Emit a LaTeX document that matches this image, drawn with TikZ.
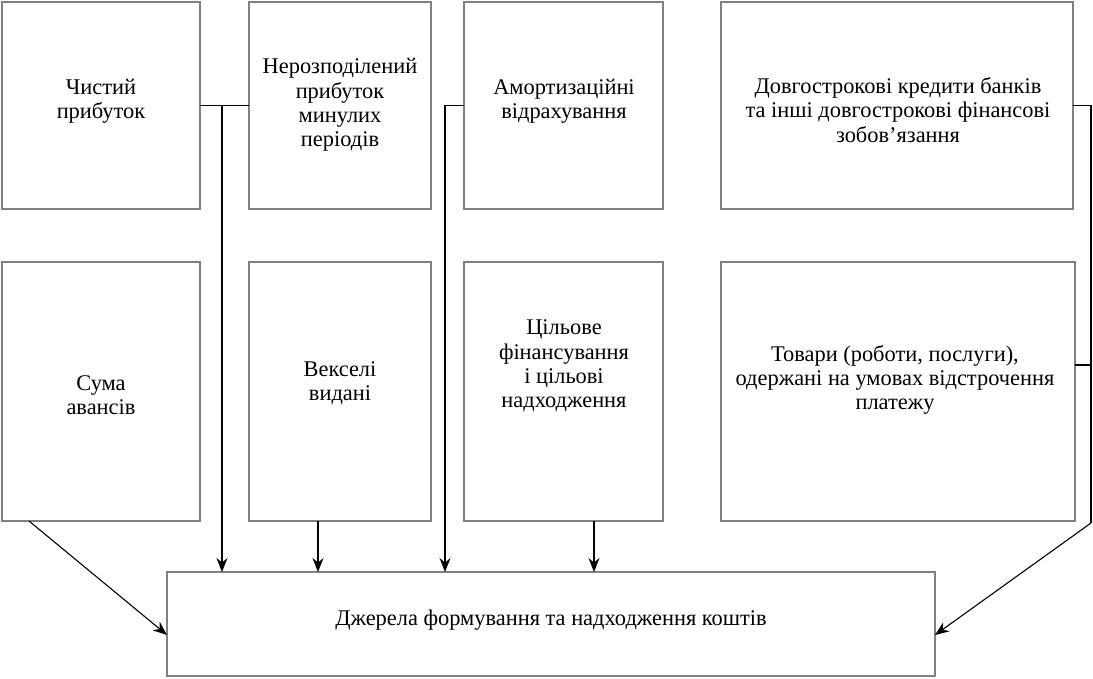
\documentclass[tikz,border=0pt]{standalone}
\usepackage{fontspec}
\setmainfont{Liberation Serif}
\usetikzlibrary{arrows.meta,calc}
\begin{document}
\begin{tikzpicture}[x=1pt,y=-1pt,
  box/.style={draw=black!50,line width=2.6pt,inner sep=0pt,outer sep=0pt},
  txt/.style={align=center,inner sep=0pt,font=\fontsize{22.4}{24.3}\selectfont},
  conn/.style={draw=black,line width=1.1pt},
  arr/.style={conn,-{Stealth[length=14pt,width=11pt]}}]
\useasboundingbox (0,0) rectangle (1093,679);
% boxes
\node[box,minimum width=198pt,minimum height=207pt] (b1) at (101,105.5) {};
\node[box,minimum width=182pt,minimum height=207pt] (b2) at (340,105.5) {};
\node[box,minimum width=199pt,minimum height=207pt] (b3) at (563.5,105.5) {};
\node[box,minimum width=352pt,minimum height=207pt] (b4) at (897,105.5) {};
\node[box,minimum width=198pt,minimum height=259pt] (b5) at (101,391.5) {};
\node[box,minimum width=182pt,minimum height=259pt] (b6) at (340,391.5) {};
\node[box,minimum width=199pt,minimum height=259pt] (b7) at (563.5,391.5) {};
\node[box,minimum width=354pt,minimum height=259pt] (b8) at (898,391.5) {};
\node[box,minimum width=768pt,minimum height=104pt] (bot) at (551,624) {};
% texts
\node[txt] (t1) at (101,101) {Чистий\\прибуток};
\node[txt] (t2) at (340,105) {Нерозподілений\\прибуток\\минулих\\періодів};
\node[txt] (t3) at (564,101) {Амортизаційні\\відрахування};
\node[txt] (t4) at (898,110) {Довгострокові кредити банків\\та інші довгострокові фінансові\\зобов’язання};
\node[txt] (t5) at (101,395) {Сума\\авансів};
\node[txt] (t6) at (340,383) {Векселі\\видані};
\node[txt] (t7) at (564,366) {Цільове\\фінансування\\і цільові\\надходження};
\node[txt] (t8) at (895,380) {Товари (роботи, послуги),\\одержані на умовах відстрочення\\платежу};
\node[txt] (t9) at (551,620) {Джерела формування та надходження коштів};
% junction points
\coordinate (j1) at (222,105.5);
\coordinate (j2) at (445,105.5);
\coordinate (j3) at (1091,105.5);
\coordinate (j4) at (1091,523);
\coordinate (j5) at (1091,365);
\coordinate (s5) at ($(b5.south)+(-72,0)$);
\coordinate (s6) at ($(b6.south)+(-22,0)$);
\coordinate (s7) at ($(b7.south)+(30.5,0)$);
\coordinate (bw) at ($(bot.west)+(0,11)$);
\coordinate (be) at ($(bot.east)+(0,11)$);
% connectors
\draw[conn] (b1.east) -- (b2.west);
\draw[arr] (j1) -- (j1 |- bot.north);
\draw[conn] (b3.west) -- (j2);
\draw[arr] (j2) -- (j2 |- bot.north);
\draw[arr] (s6) -- (s6 |- bot.north);
\draw[arr] (s7) -- (s7 |- bot.north);
\draw[arr] (s5) -- (bw);
\draw[conn] (b4.east) -- (j3) -- (j4);
\draw[arr] (j4) -- (be);
\draw[conn] (b8.east |- j5) -- (j5);
\end{tikzpicture}
\end{document}
